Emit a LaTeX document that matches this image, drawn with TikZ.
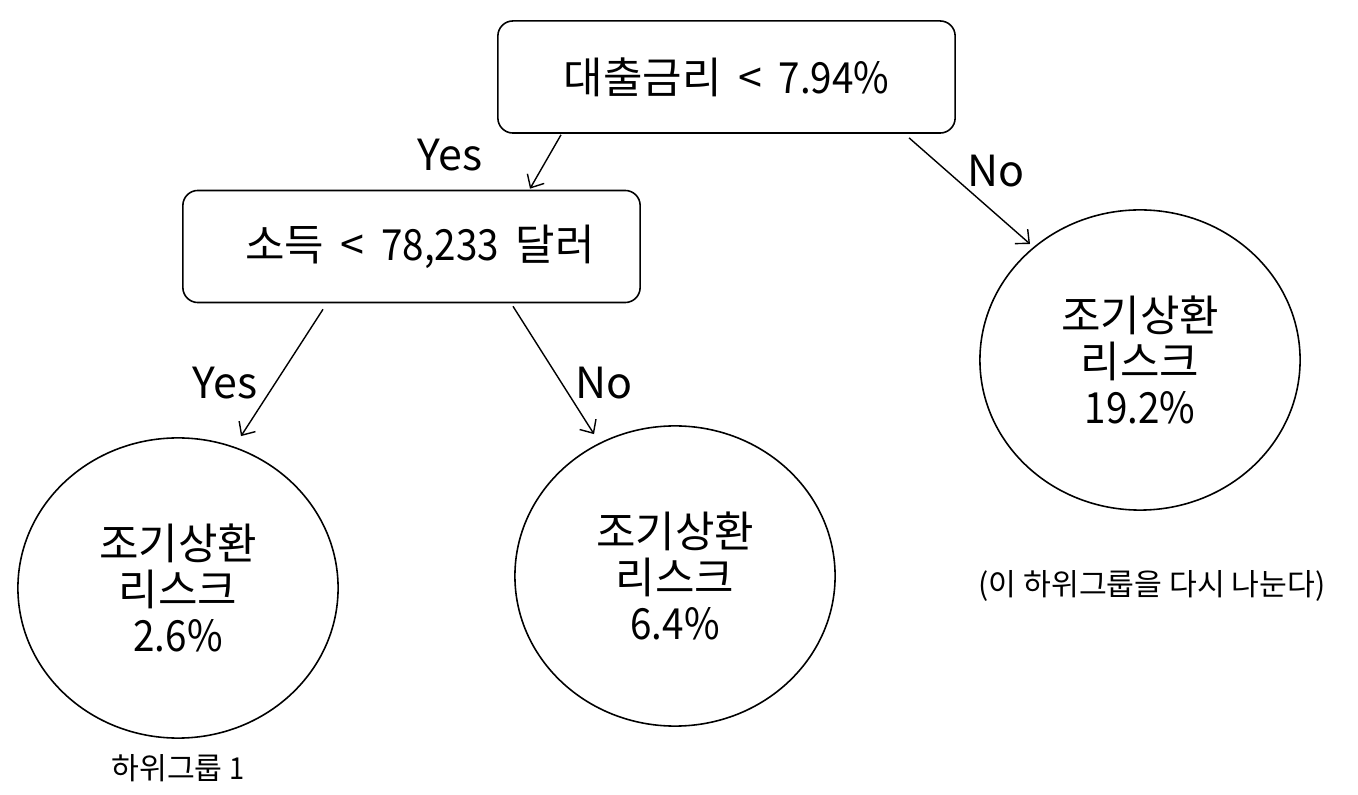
\documentclass[tikz,border=0pt]{standalone}
\usepackage{fontspec}
\setmainfont{Noto Sans CJK KR}
\newfontfamily\condnum[FakeStretch=0.9]{Noto Sans CJK KR}
\usetikzlibrary{shapes.geometric,arrows.meta}
\begin{document}
\begin{tikzpicture}[x=0.01cm,y=0.01cm,
  every node/.style={font=\fontsize{12.2pt}{13.2pt}\selectfont},
  box/.style={draw,line width=0.45pt,rounded corners=0.15cm,minimum width=4.57cm,minimum height=1.12cm,inner sep=0pt},
  leaf/.style={draw,line width=0.45pt,ellipse,minimum width=3.2cm,minimum height=3.0cm,inner sep=0pt,align=center},
  arr/.style={line width=0.4pt,-{Straight Barb[length=3pt,width=5.5pt]}},
  lbl/.style={inner sep=0pt},
  small/.style={inner sep=0pt,font=\fontsize{8.6pt}{10pt}\selectfont}]
\useasboundingbox (0,0) rectangle (1358,794);
\node[box] (b1) at (726.5,717) {대출금리 \,<\, {\condnum 7.94\%}};
\node[box] (b2) at (411.5,547.5) {\hspace*{4.8pt}소득 \,<\, {\condnum 78,233} \,달러};
\node[leaf] (c1) at (178,206) {조기상환\\리스크\\{\condnum 2.6\%}};
\node[leaf] (c2) at (675,218) {조기상환\\리스크\\{\condnum 6.4\%}};
\node[leaf] (c3) at (1140,434) {조기상환\\리스크\\{\condnum 19.2\%}};
\node[lbl] (y1) at (450,639) {Yes};
\node[lbl] (n1) at (996,623) {No};
\node[lbl] (y2) at (225,411) {Yes};
\node[lbl] (n2) at (604,411) {No};
\node[small] (g1) at (178,26) {하위그룹 {\condnum 1}};
\node[small] (g3) at (1152,208) {(이 하위그룹을 다시 나눈다)};
\draw[arr] ([shift={(-165.5,-1)}]b1.south) -- ([shift={(118.5,1)}]b2.north);
\draw[arr] ([shift={(182.5,-4)}]b1.south) -- ([shift={(-110,116)}]c3.center);
\draw[arr] ([shift={(-88.5,-6)}]b2.south) -- ([shift={(63,1)}]c1.north);
\draw[arr] ([shift={(101.5,-3)}]b2.south) -- ([shift={(-81,-9)}]c2.north);
\end{tikzpicture}
\end{document}
